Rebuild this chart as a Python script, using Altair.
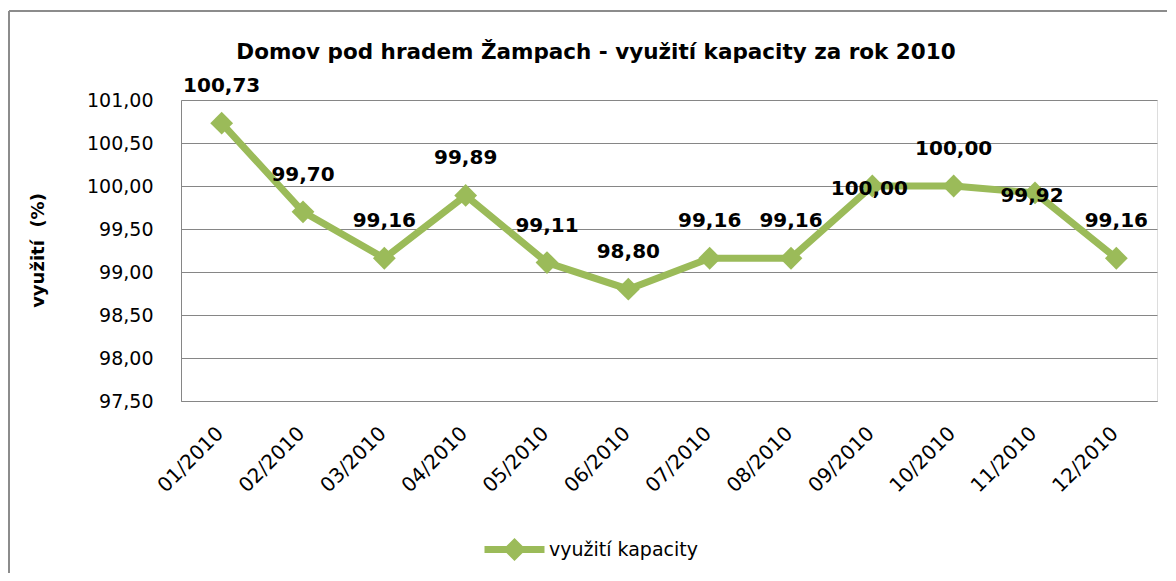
import altair as alt
import pandas as pd

months = ["01/2010", "02/2010", "03/2010", "04/2010", "05/2010", "06/2010",
          "07/2010", "08/2010", "09/2010", "10/2010", "11/2010", "12/2010"]
values = [100.73, 99.70, 99.16, 99.89, 99.11, 98.80, 99.16, 99.16, 100.00, 100.00, 99.92, 99.16]
label_pos = ["above", "above", "above", "above", "above", "above",
             "above", "above", "center", "above", "center", "above"]
series_name = "využití kapacity"
y_ticks = [97.5, 98.0, 98.5, 99.0, 99.5, 100.0, 100.5, 101.0]
title_text = "Domov pod hradem Žampach - využití kapacity za rok 2010"
y_title = "využití \u00a0(%)"

df = pd.DataFrame({"month": months, "value": values, "pos": label_pos,
                   "series": [series_name] * len(months)})

FONT = "DejaVu Sans"
GREEN = "#9BBB59"
GRID = "#868686"
fmt = "replace(format(datum.value, '.2f'), '.', ',')"

x = alt.X("month:N", sort=months,
          scale=alt.Scale(type="point", padding=0.5),
          axis=alt.Axis(title=None, labelAngle=-45, labelFontSize=20, labelFont=FONT,
                        labelColor="black", domainColor=GRID, domainWidth=1,
                        ticks=False, labelPadding=22, labelOffset=-9, grid=False))
y = alt.Y("value:Q",
          scale=alt.Scale(domain=[97.5, 101], nice=False, zero=False),
          axis=alt.Axis(title=y_title, values=y_ticks, labelExpr=fmt,
                        labelFontSize=19, labelFont=FONT, labelColor="black",
                        labelPadding=28, ticks=False, domainColor=GRID,
                        gridColor=GRID, gridWidth=1,
                        titleFont=FONT, titleFontSize=18, titleFontWeight="bold",
                        titleColor="black", titleAngle=-90, titleX=-143, titleY=150,
                        titleAlign="center", titleBaseline="middle"))

color = alt.Color("series:N", scale=alt.Scale(range=[GREEN]),
                  legend=alt.Legend(title=None, orient="none", legendX=300, legendY=416,
                                    labelFont=FONT, labelFontSize=19, labelColor="black",
                                    symbolType="M-1,0L1,0M-0.22,0L0,-0.22L0.22,0L0,0.22Z",
                                    symbolSize=3600, symbolStrokeWidth=7,
                                    symbolFillColor=GREEN, symbolStrokeColor=GREEN,
                                    labelOffset=1))

base = alt.Chart(df)
line = base.mark_line(strokeWidth=7).encode(x=x, y=y, color=color)
points = base.mark_point(shape="diamond", filled=True, size=520, opacity=1).encode(
    x=x, y=y, color=color)

lab = base.transform_calculate(label=fmt)
above = lab.transform_filter("datum.pos == 'above'").mark_text(
    font=FONT, fontSize=20, fontWeight="bold", color="black", dy=-37, dx=0
).encode(x=x, y=y, text="label:N")
center = lab.transform_filter("datum.pos == 'center'").mark_text(
    font=FONT, fontSize=20, fontWeight="bold", color="black", dy=3, dx=-3
).encode(x=x, y=y, text="label:N")

frame = pd.DataFrame({"a": [0]})
border_top = alt.Chart(frame).mark_rule(
    stroke="#8C8C8C", strokeWidth=2, clip=False
).encode(x=alt.value(-172), x2=alt.value(1010), y=alt.value(-89))
border_left = alt.Chart(frame).mark_rule(
    stroke="#8C8C8C", strokeWidth=2, clip=False
).encode(x=alt.value(-172), y=alt.value(-89), y2=alt.value(500))

chart = alt.layer(border_top, border_left, line, points, above, center).properties(
    width=976, height=301,
    autosize=alt.AutoSizeParams(type="none"),
    padding={"left": 173, "top": 92, "right": 10, "bottom": 172},
    title=alt.TitleParams(title_text, font=FONT, fontSize=21.5, fontWeight="bold",
                          color="black", anchor="middle", dx=-73, offset=-53),
).configure_view(stroke="transparent").configure(background="white")

chart.save("out.html", embed_options={"renderer": "svg", "actions": False})
